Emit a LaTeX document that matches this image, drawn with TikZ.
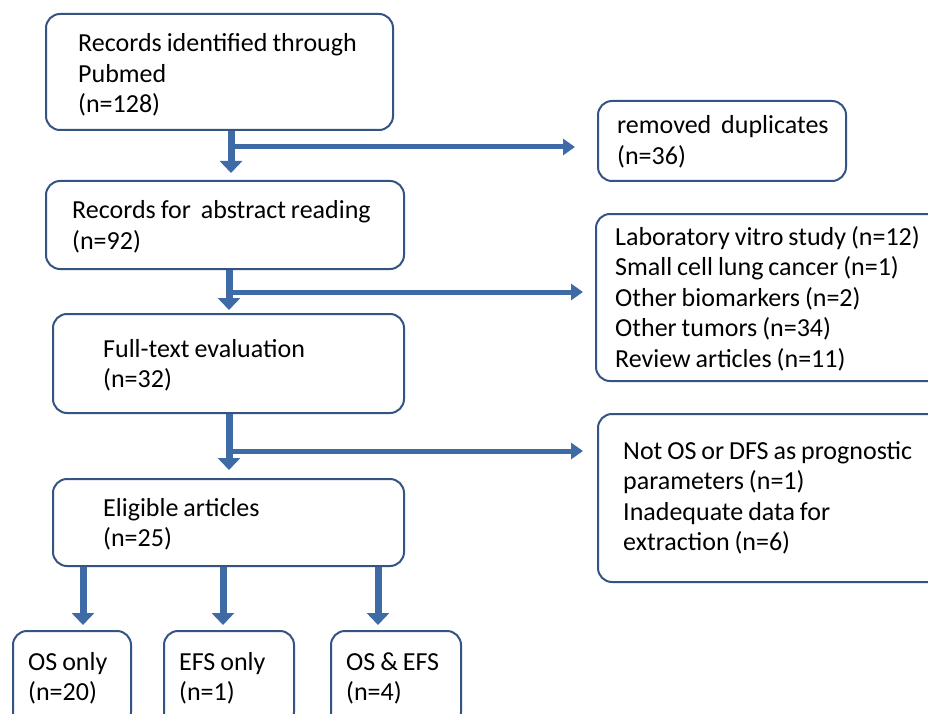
\documentclass[tikz,border=0pt]{standalone}
\usepackage{fontspec}
\setmainfont{Carlito}
\usetikzlibrary{arrows.meta}
\definecolor{arrowblue}{RGB}{62,106,166}
\definecolor{boxblue}{RGB}{52,84,132}
\newcommand\flowfont{\fontsize{26}{30.5}\selectfont\spaceskip=0.19em\relax}
\begin{document}
\begin{tikzpicture}[x=1pt,y=-1pt,
 box/.style={draw=boxblue, line width=2pt, rounded corners=14pt, anchor=north west, inner sep=0pt},
 txt/.style={anchor=west, align=left, inner sep=0pt, text=black, font=\flowfont},
 flow/.style={draw=arrowblue, line width=7pt, -{Triangle[width=22pt,length=12pt]}},
 side/.style={draw=arrowblue, line width=5pt, -{Triangle[width=16pt,length=12pt]}}]
\useasboundingbox (0,0) rectangle (928,714);
\clip (0,0) rectangle (928,714);
\fill[white] (0,0) rectangle (928,714);

\node[box, minimum width=347pt, minimum height=116pt] (rec) at (45,13) {};
\node[txt] (rect) at ([xshift=33pt,yshift=-3pt]rec.west) {Records identified through\\Pubmed\\(n=128)};
\node[box, minimum width=358pt, minimum height=88pt] (abs) at (45,180) {};
\node[txt] (abst) at ([xshift=27pt,yshift=-2pt]abs.west) {Records for\ \ abstract reading\\(n=92)};
\node[box, minimum width=351pt, minimum height=99pt] (full) at (52,313) {};
\node[txt] (fullt) at ([xshift=51pt,yshift=-2pt]full.west) {Full-text evaluation\\(n=32)};
\node[box, minimum width=351pt, minimum height=87pt] (elig) at (52,478) {};
\node[txt] (eligt) at ([xshift=51pt,yshift=-2pt]elig.west) {Eligible articles\\(n=25)};
\node[box, minimum width=248pt, minimum height=80pt] (dup) at (597,100) {};
\node[txt] (dupt) at ([xshift=20pt,yshift=-1pt]dup.west) {removed\ \ duplicates\\(n=36)};
\node[box, minimum width=350pt, minimum height=167pt] (ex1) at (595,213) {};
\node[txt] (ex1t) at ([xshift=20pt,yshift=-1pt]ex1.west)
  {Laboratory vitro study (n=12)\\Small cell lung cancer (n=1)\\Other biomarkers (n=2)\\Other tumors (n=34)\\Review articles (n=11)};
\node[box, minimum width=350pt, minimum height=168pt] (ex2) at (597,413) {};
\node[txt] (ex2t) at ([xshift=26pt]ex2.west)
  {Not OS or DFS as prognostic\\parameters (n=1)\\Inadequate data for\\extraction (n=6)};
\node[box, minimum width=118pt, minimum height=95pt] (os) at (12,630) {};
\node[txt] (ost) at ([xshift=16pt]os.west) {OS only\\(n=20)};
\node[box, minimum width=130pt, minimum height=95pt] (efs) at (163,630) {};
\node[txt] (efst) at ([xshift=16pt]efs.west) {EFS only\\(n=1)};
\node[box, minimum width=130pt, minimum height=95pt] (both) at (330,630) {};
\node[txt] (botht) at ([xshift=16pt]both.west) {OS \& EFS\\(n=4)};

% stage 1
\path (rec.south) ++(11.5,0) coordinate (v1) ++(2,16) coordinate (j1);
\draw[side, shorten >=22pt] (j1) -- (j1 -| dup.west);
\draw[flow, shorten >=7pt] (v1) -- (v1 |- abs.north);
% stage 2
\path (abs.south) ++(4,0) coordinate (v2) ++(2,22) coordinate (j2);
\draw[side, shorten >=12pt] (j2) -- (j2 -| ex1.west);
\draw[flow, shorten >=3pt] (v2) -- (v2 |- full.north);
% stage 3
\path (full.south) ++(0.5,0) coordinate (v3) ++(2,37) coordinate (j3);
\draw[side, shorten >=14pt] (j3) -- (j3 -| ex2.west);
\draw[flow, shorten >=8pt] (v3) -- (v3 |- elig.north);
% bottom split
\path (os.north) ++(11,0) coordinate (o1);
\path (efs.north) ++(-6,0) coordinate (o2);
\path (both.north) ++(-18,0) coordinate (o3);
\draw[flow, shorten >=5pt] (o1 |- elig.south) -- (o1);
\draw[flow, shorten >=5pt] (o2 |- elig.south) -- (o2);
\draw[flow, shorten >=5pt] (o3 |- elig.south) -- (o3);
\end{tikzpicture}
\end{document}
